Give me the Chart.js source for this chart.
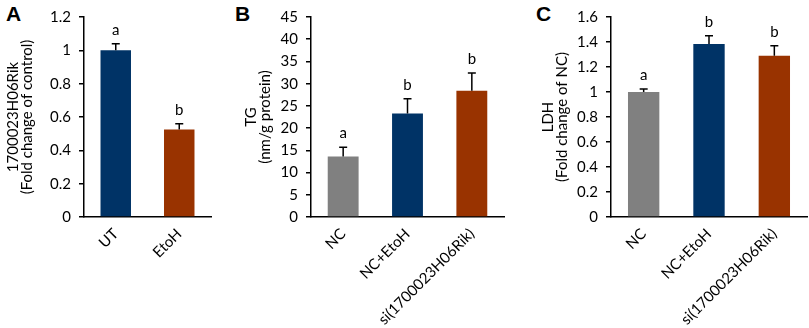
<!DOCTYPE html>
<html>
<head>
<meta charset="utf-8">
<script src="https://cdn.jsdelivr.net/npm/chart.js@4"></script>
<style>
  html, body { margin: 0; padding: 0; background: #fff; }
  body { width: 809px; height: 328px; position: relative; overflow: hidden; }
  .panel { position: absolute; top: 0; height: 328px; }
  .lab { position: absolute; font: bold 21px "Liberation Sans", Arial, sans-serif; color: #000; line-height: 1; }
</style>
</head>
<body>
<div class="lab" style="left:6px;top:3px">A</div>
<div class="lab" style="left:235px;top:3px">B</div>
<div class="lab" style="left:536px;top:3px">C</div>
<div class="panel" style="left:0;width:235px"><canvas id="cA" width="235" height="328"></canvas></div>
<div class="panel" style="left:235px;width:290px"><canvas id="cB" width="290" height="328"></canvas></div>
<div class="panel" style="left:525px;width:284px"><canvas id="cC" width="284" height="328"></canvas></div>
<script>
// ---- data ----
const categoriesA = ['UT', 'EtoH'];
const valuesA = [1.0, 0.525];
const errorsA = [0.04, 0.035];
const lettersA = ['a', 'b'];
const ticksA = { max: 1.2, step: 0.2 };
const titleA = ['1700023H06Rik', '(Fold change of control)'];

const categoriesBC = ['NC', 'NC+EtoH', 'si(1700023H06Rik)'];
const valuesB = [13.6, 23.3, 28.4];
const errorsB = [2.1, 3.3, 4.0];
const lettersB = ['a', 'b', 'b'];
const ticksB = { max: 45, step: 5 };
const titleB = ['TG', '(nm/g protein)'];

const valuesC = [1.0, 1.385, 1.29];
const errorsC = [0.025, 0.065, 0.08];
const lettersC = ['a', 'b', 'b'];
const ticksC = { max: 1.6, step: 0.2 };
const titleC = ['LDH', '(Fold change of NC)'];

const colorsA = ['#003366', '#993300'];
const colorsBC = ['#808080', '#003366', '#993300'];

const FONT = 'Lato, "Open Sans", sans-serif';

const errPlugin = {
  id: 'errLetters',
  afterDatasetsDraw(chart, args, opts) {
    const ctx = chart.ctx;
    const meta = chart.getDatasetMeta(0);
    const ys = chart.scales.y;
    ctx.save();
    ctx.strokeStyle = '#000';
    ctx.lineWidth = 1.5;
    ctx.fillStyle = '#000';
    ctx.font = '15px ' + FONT;
    ctx.textAlign = 'center';
    ctx.textBaseline = 'alphabetic';
    meta.data.forEach((bar, i) => {
      const v = opts.values[i], e = opts.errors[i];
      const yb = ys.getPixelForValue(v);
      const yt = ys.getPixelForValue(v + e);
      const x = bar.x;
      ctx.beginPath();
      ctx.moveTo(x, yb);
      ctx.lineTo(x, yt);
      ctx.moveTo(x - 4, yt);
      ctx.lineTo(x + 4, yt);
      ctx.stroke();
      ctx.fillText(opts.letters[i], x, yt - 9);
    });
    ctx.restore();
  }
};

function makeChart(id, cats, vals, errs, letters, colors, tk, title, yWidth, titlePad, padRight) {
  return new Chart(document.getElementById(id), {
    type: 'bar',
    data: {
      labels: cats,
      datasets: [{
        data: vals,
        backgroundColor: colors,
        borderWidth: 0,
        barPercentage: 0.48,
        categoryPercentage: 1.0
      }]
    },
    options: {
      responsive: false,
      animation: false,
      events: [],
      layout: { padding: { top: 15, left: 0, right: padRight, bottom: 0 } },
      plugins: {
        legend: { display: false },
        tooltip: { enabled: false },
        errLetters: { values: vals, errors: errs, letters: letters }
      },
      scales: {
        x: {
          grid: { display: false, drawTicks: false },
          border: { display: true, color: '#000', width: 1.5 },
          ticks: {
            color: '#000',
            font: { family: FONT, size: 15 },
            minRotation: 45, maxRotation: 45,
            autoSkip: false,
            padding: 8
          },
          afterFit(scale) { scale.height = 111; }
        },
        y: {
          min: 0, max: tk.max,
          grid: { display: true, drawOnChartArea: false, drawTicks: true, tickLength: 5, color: '#000', lineWidth: 1.5 },
          border: { display: true, color: '#000', width: 1.5 },
          ticks: {
            stepSize: tk.step,
            color: '#000',
            font: { family: FONT, size: 15 },
            padding: 8,
            callback: (v) => String(Number(v.toFixed(2)))
          },
          title: {
            display: true,
            text: title,
            color: '#000',
            font: { family: FONT, size: 15, lineHeight: 0.95 },
            padding: { top: titlePad, bottom: 0 }
          },
          afterFit(scale) { scale.width = yWidth; }
        }
      }
    },
    plugins: [errPlugin]
  });
}

makeChart('cA', categoriesA, valuesA, errorsA, lettersA, colorsA, ticksA, titleA, 84, 6, 24);
makeChart('cB', categoriesBC, valuesB, errorsB, lettersB, colorsBC, ticksB, titleB, 76, 9, 21);
makeChart('cC', categoriesBC, valuesC, errorsC, lettersC, colorsBC, ticksC, titleC, 86, 16, 2);
</script>
</body>
</html>
